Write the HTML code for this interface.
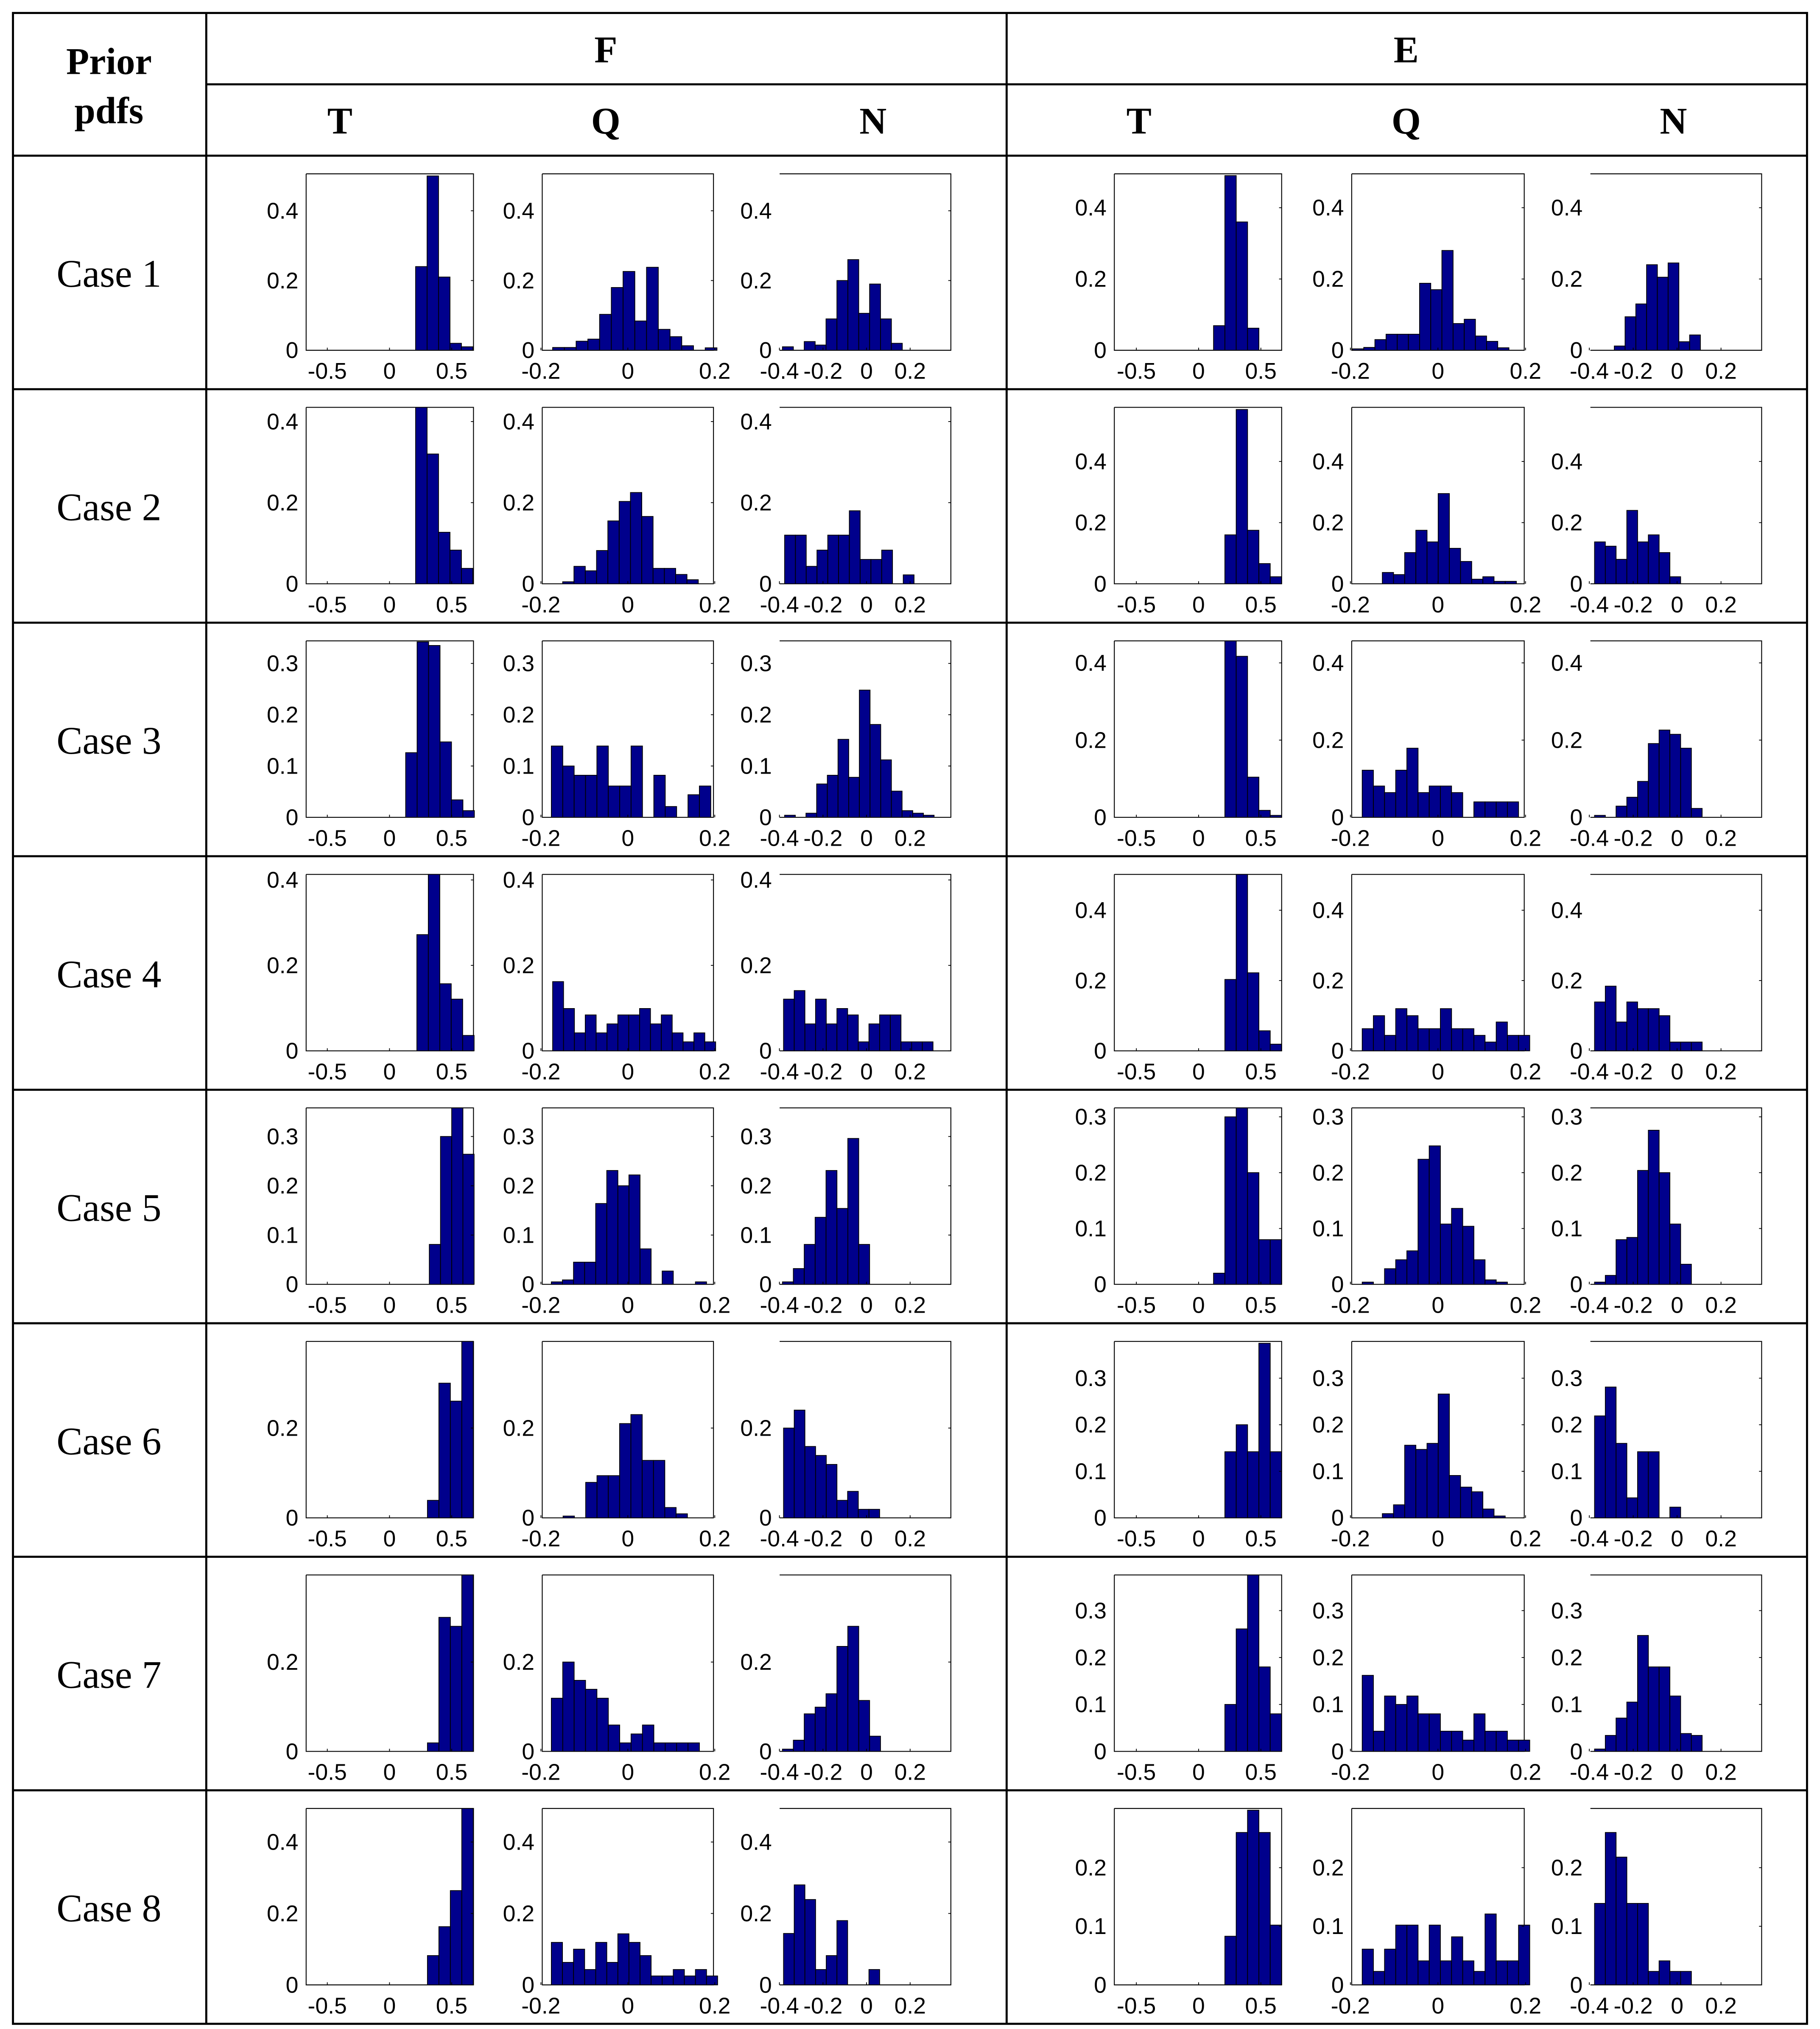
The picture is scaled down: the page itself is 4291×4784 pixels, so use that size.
<!DOCTYPE html>
<html><head><meta charset="utf-8">
<style>
html,body{margin:0;padding:0;background:#fff;}
svg{display:block;}
</style></head>
<body>
<svg id="chart" xmlns="http://www.w3.org/2000/svg" width="4291" height="4784" viewBox="0 0 1403 1564" preserveAspectRatio="none">
<rect x="0" y="0" width="1403" height="1564" fill="#fff"/>
<g id="table" stroke="#000" stroke-width="1.6" fill="none">
<rect x="10" y="10" width="1383" height="1550"/>
<line x1="159" y1="10" x2="159" y2="1560"/>
<line x1="776" y1="10" x2="776" y2="1560"/>
<line x1="159" y1="65" x2="1393" y2="65"/>
<line x1="10" y1="120" x2="1393" y2="120"/>
<line x1="10" y1="300" x2="1393" y2="300"/>
<line x1="10" y1="480" x2="1393" y2="480"/>
<line x1="10" y1="660" x2="1393" y2="660"/>
<line x1="10" y1="840" x2="1393" y2="840"/>
<line x1="10" y1="1020" x2="1393" y2="1020"/>
<line x1="10" y1="1200" x2="1393" y2="1200"/>
<line x1="10" y1="1380" x2="1393" y2="1380"/>
</g>
<g font-family="'Liberation Serif', serif" font-weight="bold" font-size="29" text-anchor="middle" fill="#000">
<text x="84" y="57">Prior</text>
<text x="84" y="95">pdfs</text>
<text x="467" y="48">F</text>
<text x="1084" y="48">E</text>
<text x="262" y="103">T</text>
<text x="467" y="103">Q</text>
<text x="673" y="103">N</text>
<text x="878" y="103">T</text>
<text x="1084" y="103">Q</text>
<text x="1290" y="103">N</text>
</g>
<g id="plots"></g>
</svg>
<script>
// ---- data: histogram bin starts, widths and probabilities per case ----
const F_T_start = [0.21,0.21,0.13,0.22,0.32,0.305,0.305,0.305];
const F_T_width = [0.092,0.092,0.092,0.092,0.09,0.092,0.092,0.092];
const F_T = [
 [0.24,0.5,0.21,0.02,0.01],
 [0.435,0.32,0.127,0.083,0.038],
 [0.126,0.342,0.335,0.147,0.034,0.013],
 [0.272,0.413,0.157,0.121,0.036],
 [0.081,0.3,0.358,0.264],
 [0.039,0.3,0.26,0.393],
 [0.019,0.3,0.28,0.395],
 [0.082,0.163,0.264,0.494]];
const F_Q_start = [-0.173,-0.15,-0.176,-0.173,-0.176,-0.149,-0.176,-0.176];
const F_Q_width = [0.027,0.026,0.0262,0.025,0.0255,0.026,0.0262,0.0255];
const F_Q = [
 [0.008,0.008,0.026,0.032,0.103,0.18,0.226,0.084,0.238,0.06,0.039,0.013,0,0.007],
 [0.005,0.043,0.032,0.082,0.155,0.203,0.225,0.166,0.038,0.038,0.023,0.01],
 [0.139,0.1,0.082,0.082,0.139,0.061,0.061,0.139,0,0.082,0.021,0,0.044,0.061],
 [0.162,0.099,0.042,0.084,0.042,0.063,0.084,0.084,0.099,0.063,0.084,0.042,0.021,0.042,0.021],
 [0.005,0.009,0.045,0.045,0.164,0.231,0.2,0.222,0.072,0,0.027,0,0,0.005],
 [0.004,0,0.079,0.094,0.094,0.21,0.23,0.128,0.128,0.023,0.009],
 [0.119,0.2,0.159,0.139,0.119,0.059,0.019,0.039,0.059,0.019,0.019,0.019,0.019],
 [0.119,0.063,0.1,0.043,0.119,0.063,0.143,0.119,0.082,0.025,0.025,0.043,0.025,0.043,0.025]];
const F_N_start = [-0.386,-0.376,-0.376,-0.381,-0.386,-0.381,-0.386,-0.381];
const F_N_width = [0.05,0.0495,0.049,0.049,0.05,0.049,0.05,0.049];
const F_N = [
 [0.01,0,0.025,0.015,0.09,0.2,0.26,0.106,0.19,0.09,0.02],
 [0.12,0.12,0.043,0.083,0.12,0.12,0.18,0.06,0.06,0.083,0,0.022],
 [0.004,0,0.008,0.065,0.082,0.152,0.078,0.248,0.181,0.112,0.051,0.013,0.008,0.004],
 [0.121,0.141,0.063,0.121,0.063,0.099,0.084,0.021,0.063,0.084,0.084,0.021,0.021,0.021],
 [0.005,0.032,0.081,0.136,0.231,0.154,0.296,0.081],
 [0.2,0.24,0.159,0.139,0.119,0.039,0.059,0.019,0.019],
 [0.005,0.025,0.084,0.099,0.129,0.235,0.28,0.114,0.034],
 [0.144,0.28,0.239,0.043,0.082,0.18,0,0,0.043]];
const E_T_start = [0.12,0.211,0.211,0.211,0.12,0.211,0.211,0.211];
const E_T_width = [0.091,0.091,0.091,0.091,0.091,0.091,0.091,0.091];
const E_T = [
 [0.069,0.49,0.36,0.062],
 [0.16,0.57,0.175,0.066,0.023],
 [0.457,0.417,0.104,0.018,0.005],
 [0.203,0.502,0.222,0.057,0.019],
 [0.02,0.3,0.316,0.2,0.08,0.08],
 [0.142,0.2,0.142,0.375,0.142],
 [0.1,0.261,0.376,0.18,0.08],
 [0.083,0.26,0.298,0.26,0.102]];
const E_Q_start = [-0.195,-0.127,-0.173,-0.173,-0.173,-0.127,-0.173,-0.173];
const E_Q_width = [0.0255,0.0255,0.0255,0.0255,0.0255,0.0255,0.0255,0.0255];
const E_Q = [
 [0.004,0.008,0.03,0.045,0.045,0.045,0.188,0.17,0.28,0.075,0.087,0.04,0.025,0.007],
 [0.037,0.03,0.102,0.175,0.137,0.295,0.116,0.073,0.015,0.023,0.008,0.008],
 [0.122,0.081,0.064,0.122,0.179,0.064,0.081,0.081,0.064,0,0.04,0.04,0.04,0.04],
 [0.063,0.1,0.044,0.12,0.1,0.063,0.063,0.12,0.063,0.063,0.044,0.025,0.082,0.044,0.044],
 [0.004,0,0.028,0.044,0.06,0.224,0.248,0.108,0.136,0.104,0.044,0.008,0.004],
 [0.009,0.028,0.156,0.147,0.16,0.266,0.091,0.066,0.056,0.019,0.004],
 [0.162,0.043,0.118,0.1,0.118,0.08,0.08,0.043,0.043,0.024,0.08,0.043,0.043,0.024,0.024],
 [0.061,0.023,0.061,0.102,0.102,0.041,0.102,0.041,0.082,0.041,0.023,0.121,0.041,0.041,0.102]];
const E_N_start = [-0.286,-0.376,-0.376,-0.376,-0.376,-0.376,-0.376,-0.376];
const E_N_width = [0.049,0.049,0.049,0.049,0.049,0.049,0.049,0.049];
const E_N = [
 [0.012,0.094,0.13,0.24,0.205,0.245,0.024,0.043],
 [0.137,0.123,0.08,0.24,0.137,0.16,0.102,0.023],
 [0.005,0,0.029,0.052,0.093,0.191,0.226,0.215,0.179,0.023],
 [0.139,0.184,0.082,0.139,0.12,0.12,0.1,0.025,0.025,0.025],
 [0.004,0.016,0.08,0.084,0.204,0.276,0.2,0.108,0.036],
 [0.219,0.281,0.16,0.043,0.142,0.142,0,0.023],
 [0.005,0.034,0.071,0.105,0.247,0.18,0.18,0.118,0.038,0.034],
 [0.139,0.26,0.218,0.139,0.139,0.023,0.041,0.023,0.023]];
const F_ymax = [0.506,0.435,0.344,0.413,0.358,0.393,0.395,0.494];
const E_ymax = [0.495,0.577,0.457,0.502,0.316,0.379,0.376,0.301];
const F_yticks = [[0,0.2,0.4],[0,0.2,0.4],[0,0.1,0.2,0.3],[0,0.2,0.4],[0,0.1,0.2,0.3],[0,0.2],[0,0.2],[0,0.2,0.4]];
const E_yticks = [[0,0.2,0.4],[0,0.2,0.4],[0,0.2,0.4],[0,0.2,0.4],[0,0.1,0.2,0.3],[0,0.1,0.2,0.3],[0,0.1,0.2,0.3],[0,0.1,0.2]];
const T_xticks = [-0.5,0,0.5];
const Q_xticks = [-0.2,0,0.2];
const N_xticks = [-0.4,-0.2,0,0.2];
const caseLabels = ["Case 1","Case 2","Case 3","Case 4","Case 5","Case 6","Case 7","Case 8"];

const NS = "http://www.w3.org/2000/svg";
const root = document.getElementById('plots');
function mk(tag, attrs, parent){
  const e = document.createElementNS(NS, tag);
  for (const k in attrs) e.setAttribute(k, attrs[k]);
  parent.appendChild(e);
  return e;
}
function fmt(v){ return (v===0)?"0":String(v); }

const panels = [
 {grp:'F', var:'T', x1:236, x2:365, dmin:-0.67, dmax:0.675, ticks:T_xticks, st:F_T_start, w:F_T_width, vals:F_T, ymax:F_ymax, yt:F_yticks, leftLine:true},
 {grp:'F', var:'Q', x1:418, x2:550, dmin:-0.197, dmax:0.197, ticks:Q_xticks, st:F_Q_start, w:F_Q_width, vals:F_Q, ymax:F_ymax, yt:F_yticks, leftLine:true},
 {grp:'F', var:'N', x1:601, x2:733, dmin:-0.399, dmax:0.387, ticks:N_xticks, st:F_N_start, w:F_N_width, vals:F_N, ymax:F_ymax, yt:F_yticks, leftLine:false},
 {grp:'E', var:'T', x1:859, x2:988, dmin:-0.677, dmax:0.667, ticks:T_xticks, st:E_T_start, w:E_T_width, vals:E_T, ymax:E_ymax, yt:E_yticks, leftLine:true},
 {grp:'E', var:'Q', x1:1042, x2:1175, dmin:-0.197, dmax:0.197, ticks:Q_xticks, st:E_Q_start, w:E_Q_width, vals:E_Q, ymax:E_ymax, yt:E_yticks, leftLine:true},
 {grp:'E', var:'N', x1:1226, x2:1358, dmin:-0.395, dmax:0.385, ticks:N_xticks, st:E_N_start, w:E_N_width, vals:E_N, ymax:E_ymax, yt:E_yticks, leftLine:false}
];

for (let r = 0; r < 8; r++) {
  const Y0 = 120 + 180*r;
  const lbl = mk('text', {x:84, y:Y0+101, 'font-family':"'Liberation Serif', serif", 'font-size':30, 'text-anchor':'middle', fill:'#000'}, root);
  
  
  lbl.textContent = caseLabels[r];

  panels.forEach(p => {
    const top = Y0 + 14, bot = Y0 + 150;
    const g = mk('g', {}, root);
    
    
    const xs = v => p.x1 + (v - p.dmin) / (p.dmax - p.dmin) * (p.x2 - p.x1);
    const ym = p.ymax[r];
    const ys = v => bot - v / ym * (bot - top);
    const fr = mk('path', {d:`M${p.x1},${top} H${p.x2} V${bot} H${p.x1}` + (p.leftLine?` V${top}`:''), fill:'none', stroke:'#000', 'stroke-width':0.7}, g);
    
    
    const vals = p.vals[r];
    vals.forEach((v, i) => {
      if (v <= 0) return;
      const a = p.st[r] + i * p.w[r], b = a + p.w[r];
      const xa = xs(a), xb = xs(b);
      const bar = mk('rect', {x:xa, y:ys(v), width:Math.max(0.1, xb - xa), height:bot - ys(v), fill:'#00008c', stroke:'#000', 'stroke-width':0.6}, g);
      
      
    });
    p.ticks.forEach(t => {
      const x = xs(t);
      mk('line', {x1:x, y1:bot, x2:x, y2:bot-2, stroke:'#000', 'stroke-width':0.6}, g);
      const tx = mk('text', {x:x, y:bot+22, 'font-family':"'Liberation Sans', sans-serif", 'font-size':17.5, 'text-anchor':'middle', fill:'#000'}, g);
      
      
      tx.textContent = fmt(t);
    });
    p.yt[r].forEach(t => {
      const y = ys(t);
      mk('line', {x1:p.x2, y1:y, x2:p.x2-2, y2:y, stroke:'#000', 'stroke-width':0.6}, g);
      const ty = mk('text', {x:p.x1-6, y:y+6, 'font-family':"'Liberation Sans', sans-serif", 'font-size':17.5, 'text-anchor':'end', fill:'#000'}, g);
      
      
      ty.textContent = fmt(t);
    });
  });
}
</script>
</body></html>
